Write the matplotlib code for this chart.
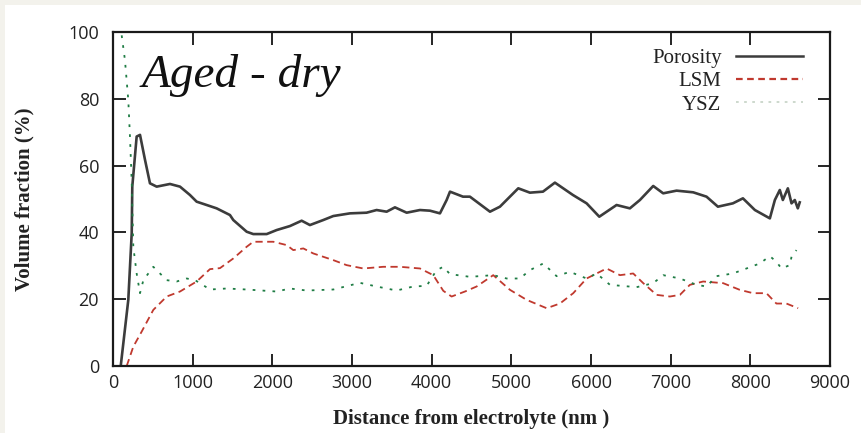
import matplotlib
matplotlib.use("Agg")
import matplotlib.pyplot as plt
from matplotlib.lines import Line2D
from matplotlib.patches import Rectangle

# ---- data ----
por_x = [97, 192, 235, 242, 297, 339, 402, 464, 548, 715, 841, 966, 1050, 1176, 1301, 1468,
         1510, 1678, 1761, 1929, 2054, 2221, 2368, 2472, 2639, 2765, 2974, 3183, 3309, 3435,
         3539, 3686, 3853, 3979, 4104, 4188, 4230, 4393, 4480, 4732, 4857, 5087, 5233, 5397,
         5547, 5773, 5945, 6104, 6321, 6488, 6614, 6781, 6906, 7074, 7283, 7450, 7593, 7781,
         7907, 8057, 8245, 8308, 8370, 8408, 8471, 8517, 8558, 8596, 8620]
por_y = [0, 19.8, 39.8, 53.7, 68.7, 69.2, 61.7, 54.7, 53.7, 54.5, 53.7, 51.2, 49.2, 48.2, 47.2, 45.2,
         43.7, 40.2, 39.5, 39.5, 40.7, 41.9, 43.5, 42.2, 43.7, 44.9, 45.7, 45.9, 46.7, 46.2,
         47.5, 45.9, 46.7, 46.5, 45.7, 49.7, 52.2, 50.7, 50.7, 46.2, 47.7, 53.2, 51.9, 52.2,
         54.9, 51.2, 48.7, 44.7, 48.2, 47.2, 49.7, 53.9, 51.7, 52.5, 52.0, 50.7, 47.7, 48.7,
         50.2, 46.7, 44.2, 49.7, 52.7, 49.7, 53.2, 48.7, 49.7, 47.2, 49.0]

lsm_x = [172, 255, 360, 506, 674, 841, 1050, 1217, 1343, 1510, 1678, 1761, 2012, 2180, 2263,
         2389, 2514, 2765, 2932, 3141, 3392, 3602, 3853, 4020, 4146, 4250, 4418, 4564, 4773,
         4983, 5192, 5443, 5610, 5777, 5945, 6196, 6363, 6530, 6656, 6823, 6990, 7116, 7241,
         7408, 7659, 7868, 8035, 8202, 8327, 8453, 8600]
lsm_y = [0, 5.8, 10.3, 16.8, 20.8, 22.3, 25.3, 29.0, 29.3, 32.2, 35.7, 37.2, 37.2, 36.2, 34.7,
         35.2, 33.7, 31.7, 30.2, 29.2, 29.7, 29.7, 29.2, 27.2, 22.5, 20.8, 22.3, 23.8, 27.2,
         22.8, 19.8, 17.3, 18.7, 21.8, 26.2, 29.2, 27.2, 27.7, 24.8, 21.3, 20.8, 21.3, 24.3,
         25.3, 24.8, 22.8, 21.8, 21.8, 18.7, 18.7, 17.3]

ysz_x = [109, 150, 192, 213, 234, 255, 297, 339, 381, 506, 674, 799, 925, 1029, 1092, 1217,
         1427, 1678, 2054, 2221, 2431, 2765, 3100, 3309, 3560, 3769, 3937, 4062, 4146, 4230,
         4481, 4773, 4941, 5108, 5233, 5401, 5568, 5735, 5945, 6071, 6238, 6572, 6781, 6906,
         7116, 7325, 7450, 7575, 7781, 7952, 8119, 8245, 8327, 8391, 8495, 8517, 8579]
ysz_y = [99, 91.6, 79.6, 68.7, 55.7, 35.7, 27.7, 21.8, 25.7, 29.7, 25.7, 25.3, 26.2, 25.7, 24.8,
         22.9, 23.2, 22.9, 22.3, 23.2, 22.6, 22.9, 24.9, 23.8, 22.6, 23.8, 24.0, 28.7, 29.7,
         27.5, 26.7, 27.2, 26.2, 26.2, 28.7, 30.7, 26.9, 28.2, 26.2, 27.7, 24.3, 23.6, 24.8,
         27.2, 26.2, 24.3, 23.8, 26.9, 27.7, 29.2, 30.7, 32.9, 31.2, 29.2, 30.2, 32.7, 34.7]

series_names = ["Porosity", "LSM", "YSZ"]
x_ticks = [0, 1000, 2000, 3000, 4000, 5000, 6000, 7000, 8000, 9000]
y_ticks = [0, 20, 40, 60, 80, 100]

# ---- styling ----
C_POR = "#3c3c3c"
C_LSM = "#c0392e"
C_YSZ = "#1f7d45"
SERIF = ["Liberation Serif", "DejaVu Serif"]
SANS = ["Open Sans", "DejaVu Sans"]

fig = plt.figure(figsize=(8.61, 4.33), dpi=100, facecolor="#f3f2ec")
fig.patches.append(Rectangle((5 / 861, 0), 1, 1 - 5 / 433, transform=fig.transFigure,
                             facecolor="white", edgecolor="none", zorder=-10))
ax = fig.add_axes([113 / 861, 1 - 366 / 433, (830 - 113) / 861, (366 - 32) / 433])
ax.set_zorder(5)
ax.patch.set_alpha(0)

ax.plot(por_x, por_y, color=C_POR, lw=1.9, solid_joinstyle="round")
ax.plot(lsm_x, lsm_y, color=C_LSM, lw=1.3, dashes=(4, 2.5))
ax.plot(ysz_x, ysz_y, color=C_YSZ, lw=1.3, dashes=(1.5, 4))

ax.set_xlim(0, 9000)
ax.set_ylim(0, 100)
ax.set_xticks(x_ticks)
ax.set_yticks(y_ticks)
ax.tick_params(direction="in", length=9, width=1.2, top=True, right=True, labelsize=13)
ax.tick_params(axis="x", pad=6)
ax.tick_params(axis="y", pad=10)
for lab in ax.get_xticklabels() + ax.get_yticklabels():
    lab.set_family(SANS)
    lab.set_color("#222222")
for sp in ax.spines.values():
    sp.set_linewidth(1.6)
    sp.set_color("#1a1a1a")

ax.set_xlabel("Distance from electrolyte (nm )", family=SERIF, fontsize=15,
              fontweight="bold", color="#222222")
ax.set_ylabel("Volume fraction (%)", family=SERIF, fontsize=15, fontweight="bold",
              color="#222222")
ax.xaxis.set_label_coords(0.5, -0.128)
ax.yaxis.set_label_coords(-0.123, 0.5)
ax.yaxis.label.set_va("center")

ax.text(0.040, 0.835, "Aged - dry", transform=ax.transAxes, family=SERIF, style="italic",
        fontsize=34, color="#111111", va="baseline", ha="left")

handles = [Line2D([], [], color=C_POR, lw=1.8),
           Line2D([], [], color=C_LSM, lw=1.6, dashes=(3, 2)),
           Line2D([], [], color="#c9d6c9", lw=1.3, dashes=(1.5, 3))]
leg = ax.legend(handles, series_names, loc="upper right", bbox_to_anchor=(0.962, 0.95),
                frameon=False, markerfirst=False, handlelength=3.2, handletextpad=0.7,
                labelspacing=0.17, borderpad=0, borderaxespad=0,
                prop={"family": SERIF, "size": 15})
for t in leg.get_texts():
    t.set_ha("right")
    t.set_color("#222222")

fig.savefig("out.png", dpi=100, facecolor=fig.get_facecolor())
